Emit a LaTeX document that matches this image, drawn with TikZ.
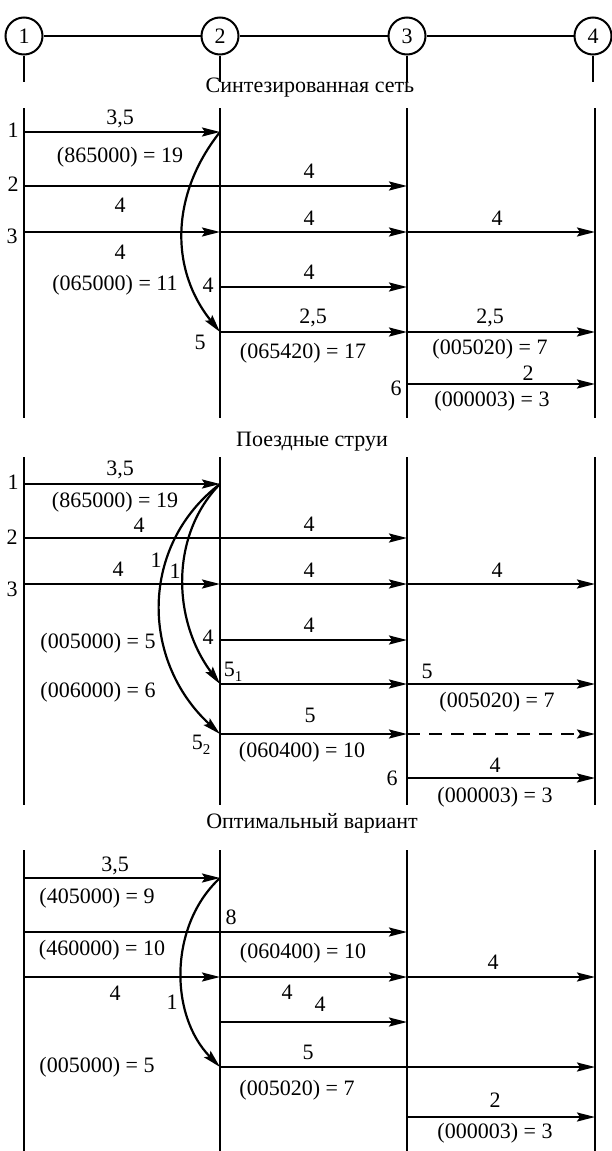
\documentclass[tikz,border=0pt]{standalone}
\usepackage{fontspec}
\setmainfont{Liberation Serif}
\usetikzlibrary{arrows.meta}

\begin{document}
\begin{tikzpicture}[
  x=1pt, y=-1pt,
  font=\fontsize{22}{25}\selectfont,
  station/.style={draw, circle, line width=2pt, minimum size=37pt,
                  inner sep=0pt, fill=white},
  track/.style={line width=2.6pt},
  flow/.style={-{Stealth[length=18pt, width=9pt, inset=3pt]}, line width=2.2pt},
  jump/.style={-{Stealth[length=18pt, width=9pt, inset=3pt]}, line width=2.2pt},
  gap/.style={flow, dash pattern=on 13pt off 9pt},
  lbl/.style={inner sep=1pt}
]
\useasboundingbox (0,0) rectangle (612,1151);

%% network
\node[station] (n1) at (24,36)  {1};
\node[station] (n2) at (220,36) {2};
\node[station] (n3) at (407,36) {3};
\node[station] (n4) at (593,36) {4};
\coordinate (s1) at (24,82);  \coordinate (s2) at (220,82);
\coordinate (s3) at (407,82); \coordinate (s4) at (593,82);
\draw[line width=2pt] (n1) -- (n2) -- (n3) -- (n4);
\draw[track] (n1) -- (s1);  \draw[track] (n2) -- (s2);
\draw[track] (n3) -- (s3);  \draw[track] (n4) -- (s4);
\node[lbl] (t1) at (310,88) {Синтезированная сеть};

%% synthesized network
\coordinate (aT1) at (24,108);  \coordinate (aB1) at (24,418);
\coordinate (aT2) at (220,108); \coordinate (aB2) at (220,418);
\coordinate (aT3) at (407,108); \coordinate (aB3) at (407,418);
\coordinate (aT4) at (595,108); \coordinate (aB4) at (595,418);
\draw[track] (aT1) -- (aB1);  \draw[track] (aT2) -- (aB2);
\draw[track] (aT3) -- (aB3);  \draw[track] (aT4) -- (aB4);

\coordinate (a11) at (24,132);  \coordinate (a12) at (220,132);
\coordinate (a21) at (24,186);  \coordinate (a23) at (407,186);
\coordinate (a31) at (24,232);  \coordinate (a32) at (220,232);
\coordinate (a33) at (407,232); \coordinate (a34) at (595,232);
\coordinate (a42) at (220,287); \coordinate (a43) at (407,287);
\coordinate (a52) at (220,332); \coordinate (a53) at (407,332);
\coordinate (a54) at (595,332);
\coordinate (a63) at (407,384); \coordinate (a64) at (595,384);

\draw[flow] (a11) -- (a12);
\draw[flow] (a21) -- (a23);
\draw[flow] (a31) -- (a32);
\draw[flow] (a32) -- (a33);
\draw[flow] (a33) -- (a34);
\draw[flow] (a42) -- (a43);
\draw[flow] (a52) -- (a53);
\draw[flow] (a53) -- (a54);
\draw[flow] (a63) -- (a64);
\draw[jump] (a12) .. controls (170,195) and (170,270) .. (a52);

\node[lbl] (a-n1) at (13,130) {1};
\node[lbl] (a-n2) at (13,184) {2};
\node[lbl] (a-n3) at (12,236) {3};
\node[lbl] (a-n4) at (208,285) {4};
\node[lbl] (a-n5) at (200,342) {5};
\node[lbl] (a-n6) at (396,388) {6};
\node[lbl] (a-w1) at (120,119) {3,5};
\node[lbl] (a-w2) at (120,205) {4};
\node[lbl] (a-w3) at (309,171) {4};
\node[lbl] (a-w4) at (309,218) {4};
\node[lbl] (a-w5) at (497,218) {4};
\node[lbl] (a-w6) at (120,252) {4};
\node[lbl] (a-w7) at (309,272) {4};
\node[lbl] (a-w8) at (313,318) {2,5};
\node[lbl] (a-w9) at (490,318) {2,5};
\node[lbl] (a-w10) at (528,373) {2};
\node[lbl] (a-f1) at (120,157) {(865000) = 19};
\node[lbl] (a-f2) at (115,285) {(065000) = 11};
\node[lbl] (a-f3) at (303,353) {(065420) = 17};
\node[lbl] (a-f4) at (490,349) {(005020) = 7};
\node[lbl] (a-f5) at (492,401) {(000003) = 3};
\node[lbl] (t2) at (312,442) {Поездные струи};

%% train streams
\coordinate (bT1) at (24,457);  \coordinate (bB1) at (24,805);
\coordinate (bT2) at (220,457); \coordinate (bB2) at (220,805);
\coordinate (bT3) at (407,457); \coordinate (bB3) at (407,805);
\coordinate (bT4) at (595,457); \coordinate (bB4) at (595,805);
\draw[track] (bT1) -- (bB1);  \draw[track] (bT2) -- (bB2);
\draw[track] (bT3) -- (bB3);  \draw[track] (bT4) -- (bB4);

\coordinate (b11) at (24,484);  \coordinate (b12) at (220,484);
\coordinate (b21) at (24,538);  \coordinate (b23) at (407,538);
\coordinate (b31) at (24,584);  \coordinate (b32) at (220,584);
\coordinate (b33) at (407,584); \coordinate (b34) at (595,584);
\coordinate (b42) at (220,640); \coordinate (b43) at (407,640);
\coordinate (b52) at (220,684); \coordinate (b53) at (407,684);
\coordinate (b54) at (595,684);
\coordinate (b62) at (220,734); \coordinate (b63) at (407,734);
\coordinate (b64) at (595,734);
\coordinate (b73) at (407,778); \coordinate (b74) at (595,778);

\draw[flow] (b11) -- (b12);
\draw[flow] (b21) -- (b23);
\draw[flow] (b31) -- (b32);
\draw[flow] (b32) -- (b33);
\draw[flow] (b33) -- (b34);
\draw[flow] (b42) -- (b43);
\draw[flow] (b52) -- (b53);
\draw[flow] (b53) -- (b54);
\draw[flow] (b62) -- (b63);
\draw[gap]  (b63) -- (b64);
\draw[flow] (b73) -- (b74);
\draw[jump] (b12) .. controls (170,535) and (172,620) .. (b52);
\draw[jump] (b12) .. controls (140,545) and (140,660) .. (b62);

\node[lbl] (b-n1) at (13,482) {1};
\node[lbl] (b-n2) at (12,537) {2};
\node[lbl] (b-n3) at (12,589) {3};
\node[lbl] (b-n4) at (208,637) {4};
\node[lbl] (b-n5) at (233,672) {5\raisebox{-5pt}{\fontsize{15}{15}\selectfont 1}};
\node[lbl] (b-n6) at (201,745) {5\raisebox{-5pt}{\fontsize{15}{15}\selectfont 2}};
\node[lbl] (b-n7) at (392,778) {6};
\node[lbl] (b-j1) at (156,560) {1};
\node[lbl] (b-j2) at (175,571) {1};
\node[lbl] (b-w1) at (120,470) {3,5};
\node[lbl] (b-w2) at (139,525) {4};
\node[lbl] (b-w3) at (309,524) {4};
\node[lbl] (b-w4) at (118,569) {4};
\node[lbl] (b-w5) at (309,570) {4};
\node[lbl] (b-w6) at (497,570) {4};
\node[lbl] (b-w7) at (309,625) {4};
\node[lbl] (b-w8) at (427,671) {5};
\node[lbl] (b-w9) at (310,715) {5};
\node[lbl] (b-w10) at (495,765) {4};
\node[lbl] (b-f1) at (115,502) {(865000) = 19};
\node[lbl] (b-f2) at (98,643) {(005000) = 5};
\node[lbl] (b-f3) at (98,692) {(006000) = 6};
\node[lbl] (b-f4) at (497,702) {(005020) = 7};
\node[lbl] (b-f5) at (302,752) {(060400) = 10};
\node[lbl] (b-f6) at (495,797) {(000003) = 3};
\node[lbl] (t3) at (312,823) {Оптимальный вариант};

%% optimal variant
\coordinate (cT1) at (24,850);  \coordinate (cB1) at (24,1151);
\coordinate (cT2) at (220,850); \coordinate (cB2) at (220,1151);
\coordinate (cT3) at (407,850); \coordinate (cB3) at (407,1151);
\coordinate (cT4) at (595,850); \coordinate (cB4) at (595,1151);
\draw[track] (cT1) -- (cB1);  \draw[track] (cT2) -- (cB2);
\draw[track] (cT3) -- (cB3);  \draw[track] (cT4) -- (cB4);

\coordinate (c11) at (24,878);  \coordinate (c12) at (220,878);
\coordinate (c21) at (24,932);  \coordinate (c23) at (407,932);
\coordinate (c31) at (24,977);  \coordinate (c32) at (220,977);
\coordinate (c33) at (407,977); \coordinate (c34) at (595,977);
\coordinate (c42) at (220,1022); \coordinate (c43) at (407,1022);
\coordinate (c52) at (220,1067); \coordinate (c54) at (595,1067);
\coordinate (c63) at (407,1117); \coordinate (c64) at (595,1117);

\draw[flow] (c11) -- (c12);
\draw[flow] (c21) -- (c23);
\draw[flow] (c31) -- (c32);
\draw[flow] (c32) -- (c33);
\draw[flow] (c33) -- (c34);
\draw[flow] (c42) -- (c43);
\draw[flow] (c52) -- (c54);
\draw[flow] (c63) -- (c64);
\draw[jump] (c12) .. controls (169,925) and (169,1015) .. (c52);

\node[lbl] (c-n1) at (231,917) {8};
\node[lbl] (c-j1) at (172,1002) {1};
\node[lbl] (c-w1) at (115,866) {3,5};
\node[lbl] (c-w2) at (115,993) {4};
\node[lbl] (c-w3) at (287,992) {4};
\node[lbl] (c-w4) at (493,962) {4};
\node[lbl] (c-w5) at (320,1004) {4};
\node[lbl] (c-w6) at (308,1052) {5};
\node[lbl] (c-w7) at (495,1100) {2};
\node[lbl] (c-f1) at (97,898) {(405000) = 9};
\node[lbl] (c-f2) at (102,950) {(460000) = 10};
\node[lbl] (c-f3) at (303,953) {(060400) = 10};
\node[lbl] (c-f4) at (97,1067) {(005000) = 5};
\node[lbl] (c-f5) at (297,1090) {(005020) = 7};
\node[lbl] (c-f6) at (495,1133) {(000003) = 3};

\end{tikzpicture}
\end{document}
